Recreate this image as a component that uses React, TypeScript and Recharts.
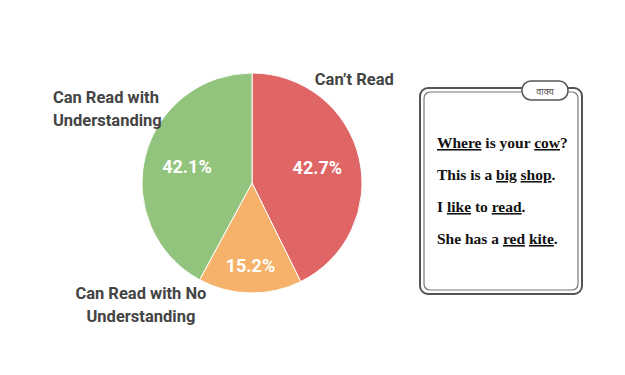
import React from "react";
import { PieChart, Pie, Cell } from "recharts";

const categories = ["Can\u2019t Read", "Can Read with No Understanding", "Can Read with Understanding"];
const shares = [42.7, 15.2, 42.1];
const sliceColors = ["#E06666", "#F6B26B", "#93C47D"];

const data = categories.map((name, i) => ({ name, value: shares[i] }));

const cardLines = [
  [["Where", true], [" is your ", false], ["cow", true], ["?", false]],
  [["This is a ", false], ["big", true], [" ", false], ["shop", true], [".", false]],
  [["I ", false], ["like", true], [" to ", false], ["read", true], [".", false]],
  [["She has a ", false], ["red", true], [" ", false], ["kite", true], [".", false]],
] as [string, boolean][][];

const RAD = Math.PI / 180;

// percent text inside the slices
function renderInner(props: any) {
  const { cx, cy, midAngle, outerRadius, percent } = props;
  const r = outerRadius * (percent < 0.2 ? 0.75 : 0.61);
  const x = cx + r * Math.cos(-midAngle * RAD);
  const y = cy + r * Math.sin(-midAngle * RAD);
  return (
    <text x={x} y={y} fill="#fff" textAnchor="middle" dominantBaseline="central"
      fontFamily="Roboto" fontWeight={700} fontSize={18}>
      {(percent * 100).toFixed(1)}%
    </text>
  );
}

// category names outside the pie
const outerPlace = [
  { dx: 0.93, dy: -0.95, anchor: "middle", lines: ["Can\u2019t Read"] },
  { dx: -1.01, dy: 1.0, anchor: "middle", lines: ["Can Read with No", "Understanding"] },
  { dx: -1.81, dy: -0.78, anchor: "start", lines: ["Can Read with", "Understanding"] },
];

function renderOuter(props: any) {
  const { cx, cy, outerRadius, index } = props;
  const p = outerPlace[index];
  const x = cx + p.dx * outerRadius;
  const y = cy + p.dy * outerRadius;
  return (
    <text x={x} y={y} fill="#444" textAnchor={p.anchor} dominantBaseline="central"
      fontFamily="Roboto" fontWeight={700} fontSize={16.5}>
      {p.lines.map((l, i) => (
        <tspan key={i} x={x} dy={i === 0 ? 0 : 23}>{l}</tspan>
      ))}
    </text>
  );
}

function Card() {
  return (
    <svg width={625} height={375} style={{ position: "absolute", left: 0, top: 0, pointerEvents: "none" }}>
      <rect x={420} y={88} width={162} height={206} rx={8} fill="#fff" stroke="#555" strokeWidth={2} />
      <rect x={424} y={92} width={154} height={198} rx={6} fill="none" stroke="#777" strokeWidth={1.2} />
      <rect x={522} y={81} width={46} height={19} rx={9} fill="#fff" stroke="#555" strokeWidth={1.5} />
      <text x={545} y={91} textAnchor="middle" dominantBaseline="central" fontSize={9}
        fontFamily="Noto Sans" fill="#555">वाक्य</text>
      {cardLines.map((line, i) => (
        <text key={i} x={437} y={148 + i * 32} fontFamily="Liberation Serif" fontWeight={700}
          fontSize={15.5} fill="#111">
          {line.map(([w, u], j) => (
            <tspan key={j} style={u ? { textDecoration: "underline", textDecorationColor: "#777", textUnderlineOffset: 3 } : undefined}>{w}</tspan>
          ))}
        </text>
      ))}
    </svg>
  );
}

export default function App() {
  return (
    <div style={{ position: "absolute", left: 0, top: 0, width: 625, height: 375, background: "#fff" }}>
      <PieChart width={625} height={375} margin={{ top: 0, right: 0, bottom: 0, left: 0 }}>
        <Pie data={data} dataKey="value" cx={252} cy={183} outerRadius={110}
          startAngle={90} endAngle={-270} stroke="#fff" strokeWidth={1}
          isAnimationActive={false} labelLine={false} label={renderInner}>
          {data.map((d, i) => (
            <Cell key={d.name} fill={sliceColors[i]} />
          ))}
        </Pie>
        <Pie data={data} dataKey="value" cx={252} cy={183} outerRadius={110}
          startAngle={90} endAngle={-270} fill="none" stroke="none"
          isAnimationActive={false} labelLine={false} label={renderOuter} />
      </PieChart>
      <Card />
    </div>
  );
}
